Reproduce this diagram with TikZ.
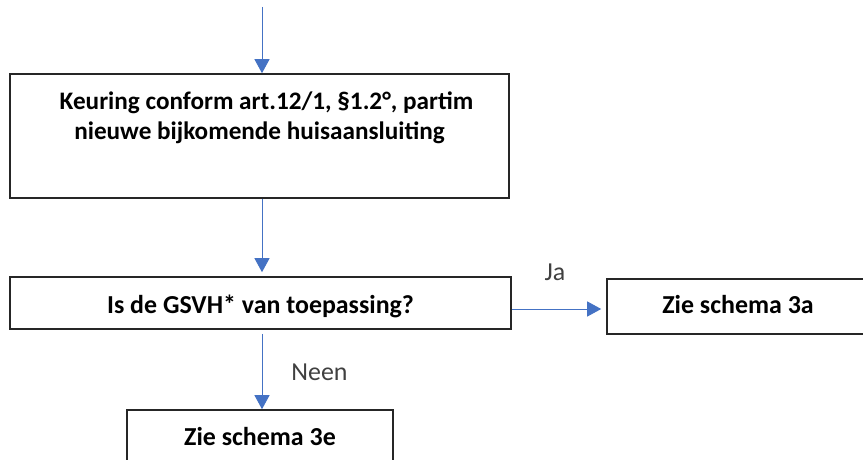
\documentclass[tikz,border=0pt]{standalone}
\usepackage{fontspec}
\setmainfont{Carlito}
\usetikzlibrary{arrows.meta}
\definecolor{arrowblue}{HTML}{4472C4}
\definecolor{labelgray}{HTML}{404040}
\begin{document}
\begin{tikzpicture}[x=1pt,y=-1pt,
  box/.style={draw=black!85, line width=1.6pt, fill=white, inner sep=0pt,
    font=\fontsize{25.9}{31}\selectfont\bfseries},
  arr/.style={draw=arrowblue, line width=1pt, -{Triangle[width=15pt,length=14pt]}},
  lbl/.style={inner sep=0pt, anchor=base, text=labelgray, font=\fontsize{25.9}{31}\selectfont}]
\fill[white] (0,0) rectangle (863,460);
\useasboundingbox (0,0) rectangle (863,460);
\clip (0,0) rectangle (863,460);

% boxes
\node[box, minimum width=499pt, minimum height=124pt] (k) at (259.5,136) {};
\node[inner sep=0pt, anchor=base, font=\fontsize{25.2}{30}\selectfont\bfseries] (kt) at (259.5,110)
  {\parbox[t]{480pt}{\centering\hspace*{14pt}Keuring conform art.12/1, §1.2°, partim\\nieuwe bijkomende huisaansluiting}};
\node[box, minimum width=501pt, minimum height=52pt, text height=22pt, text depth=2pt] (q) at (260.5,303) {Is de GSVH* van toepassing?};
\node[box, minimum width=262pt, minimum height=55pt, text height=17pt, text depth=4pt] (a) at (738,306.5) {Zie schema 3a};
\node[box, minimum width=266pt, minimum height=54pt, text height=20pt, text depth=4pt] (e) at (260,437) {Zie schema 3e};

% connectors
\coordinate (start) at (262,7);
\coordinate (jy) at (0,309);
\draw[arr] (start) -- (start |- k.north);
\draw[arr, shorten >=4pt] (k.south -| start) -- (q.north -| start);
\draw[arr, shorten <=4pt] (q.south -| start) -- (e.north -| start);
\draw[arr, shorten >=5pt] (q.east |- jy) -- (a.west |- jy);

% labels
\node[lbl] (ja) at (555,280) {Ja};
\node[lbl] (neen) at (319.5,380) {Neen};
\end{tikzpicture}
\end{document}
